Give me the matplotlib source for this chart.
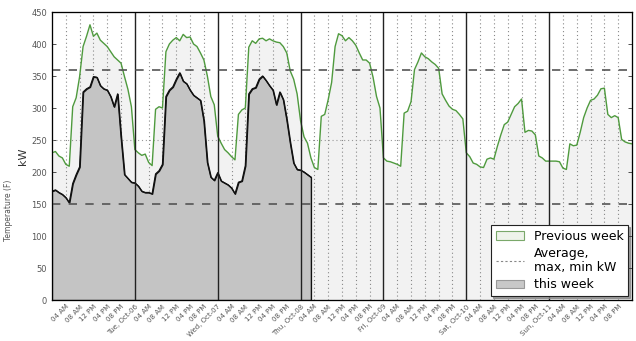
import matplotlib
matplotlib.use("Agg")
import matplotlib.pyplot as plt
import numpy as np
from matplotlib.patches import Patch
from matplotlib.lines import Line2D

# ---- data (kW, hourly from Mon Oct-05 00:00) ----
prev_week = [
    # Mon
    230, 232, 225, 222, 212, 209, 302, 316, 349, 396, 412, 430, 412, 417, 406, 401, 396, 388, 380, 375, 370, 349, 329, 302,
    # Tue
    235, 230, 226, 228, 215, 210, 298, 302, 300, 388, 400, 406, 410, 405, 415, 410, 411, 400, 396, 386, 375, 350, 318, 305,
    # Wed
    256, 245, 235, 230, 224, 219, 290, 297, 300, 395, 405, 401, 408, 409, 405, 408, 405, 403, 402, 396, 386, 358, 345, 322,
    # Thu
    280, 255, 245, 222, 207, 204, 287, 290, 313, 340, 396, 416, 413, 405, 410, 405, 398, 386, 375, 375, 370, 348, 318, 300,
    # Fri
    222, 217, 216, 214, 212, 209, 292, 295, 310, 360, 372, 386, 380, 377, 372, 368, 362, 322, 312, 303, 298, 296, 290, 283,
    # Sat
    230, 224, 214, 212, 208, 207, 220, 222, 220, 240, 258, 274, 278, 290, 302, 307, 314, 262, 265, 264, 258, 225, 222, 217,
    # Sun
    217, 217, 217, 216, 206, 204, 244, 241, 242, 262, 285, 300, 312, 314, 320, 330, 331, 290, 285, 288, 285, 251, 247, 245,
    244,
]
this_week = [
    # Mon
    170, 172, 168, 165, 160, 152, 182, 196, 208, 325, 330, 333, 349, 348, 335, 330, 328, 318, 302, 322, 255, 196, 190, 184,
    # Tue
    183, 178, 170, 168, 168, 166, 197, 202, 212, 318, 328, 333, 345, 355, 342, 338, 328, 320, 316, 312, 280, 215, 192, 187,
    # Wed
    199, 186, 183, 180, 175, 166, 184, 186, 210, 322, 330, 332, 345, 350, 343, 335, 328, 305, 325, 313, 282, 246, 214, 204,
    # Thu
    203, 200, 196, 192,
]
avg_kw = 250
max_kw = 360
min_kw = 150

hour_labels = ["04 AM", "08 AM", "12 PM", "04 PM", "08 PM"]
day_labels = ["Tue, Oct-06", "Wed, Oct-07", "Thu, Oct-08", "Fri, Oct-09",
              "Sat, Oct-10", "Sun, Oct-11"]
yticks = [0, 50, 100, 150, 200, 250, 300, 350, 400, 450]

# ---- figure ----
fig = plt.figure(figsize=(6.36, 3.41), dpi=100)
ax = fig.add_axes([52/636, 1-300/341, 580/636, 288/341])

xp = np.arange(len(prev_week))
xt = np.arange(len(this_week))

ax.fill_between(xp, prev_week, 0, color="#f2f2f2", lw=0, zorder=1)
ax.plot(xp, prev_week, color="#4f9a3e", lw=1.0, zorder=4)
ax.fill_between(xt, this_week, 0, facecolor="#c4c4c4", edgecolor="#111111",
                lw=1.0, zorder=3)
ax.plot(xt, this_week, color="#111111", lw=0.9, zorder=5)

# vertical grid
ticks, labels = [], []
for d in range(7):
    if d > 0:
        ticks.append(d*24)
        labels.append(day_labels[d-1])
        ax.axvline(d*24, color="#222222", lw=1.0, zorder=6)
    for i, hl in enumerate(hour_labels):
        p = d*24 + 4*(i+1)
        ticks.append(p)
        labels.append(hl)
        ax.axvline(p, color="#888888", lw=0.8, ls=(0, (1, 2.5)), zorder=2)

ax.axhline(max_kw, color="#555555", lw=1.2, ls=(0, (5, 5)), zorder=7)
ax.axhline(min_kw, color="#555555", lw=1.2, ls=(0, (5, 5)), zorder=7)
ax.axhline(avg_kw, color="#999999", lw=0.8, ls=(0, (1, 2.5)), zorder=2)

ax.set_xlim(0, 168)
ax.set_ylim(0, 450)
ax.set_xticks(ticks)
ax.set_xticklabels(labels, rotation=45, ha="right", rotation_mode="anchor",
                   fontsize=5, color="#555555")
ax.set_yticks(yticks)
ax.set_yticklabels([str(v) for v in yticks], fontsize=6, color="#555555")
ax.tick_params(axis="both", direction="in", length=3, width=0.6, color="#333333")
ax.tick_params(axis="x", length=0, pad=2.5)
ax.set_ylabel("kW", fontsize=8, color="#333333", labelpad=2)
for s in ax.spines.values():
    s.set_color("#333333")
    s.set_linewidth(0.9)

ax2 = ax.twinx()
ax2.set_ylim(0, 450)
ax2.set_yticks(yticks)
ax2.set_yticklabels([])
ax2.tick_params(axis="y", direction="in", length=3, width=0.6, color="#333333")

fig.text(0.013, 1-210/341, "Temperature (F)", rotation=90, fontsize=5.5,
         color="#555555", ha="center", va="center")

handles = [
    Patch(facecolor="#eef3ea", edgecolor="#7aa86a", lw=0.8),
    Line2D([0], [0], color="#888888", lw=0.8, ls=(0, (2, 2))),
    Patch(facecolor="#c8c8c8", edgecolor="#999999", lw=0.8),
]
leg = ax.legend(handles, ["Previous week", "Average,\nmax, min kW", "this week"],
                loc="lower right", fontsize=9, frameon=True, fancybox=False,
                shadow={"ox": 1.5, "oy": -1.5, "color": "#888888", "alpha": 0.8},
                borderaxespad=0.3, handlelength=2.2,
                labelspacing=0.3, borderpad=0.4, framealpha=1.0)
leg.get_frame().set_edgecolor("#222222")
leg.get_frame().set_linewidth(0.8)
leg.set_zorder(10)

fig.savefig("out.png", dpi=100)
